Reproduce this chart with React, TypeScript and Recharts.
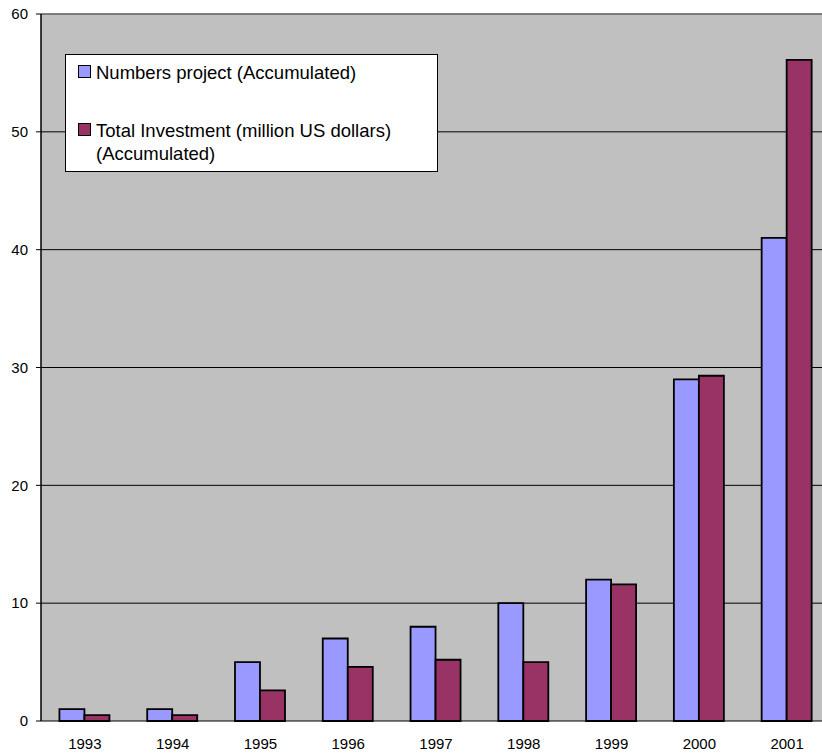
import { BarChart, Bar, XAxis, YAxis, CartesianGrid, Legend, ReferenceLine } from 'recharts';

const years = ['1993', '1994', '1995', '1996', '1997', '1998', '1999', '2000', '2001'];
const projects = [1, 1, 5, 7, 8, 10, 12, 29, 41];
const investment = [0.5, 0.5, 2.6, 4.6, 5.2, 5.0, 11.6, 29.3, 56.1];
const yTicks = [0, 10, 20, 30, 40, 50, 60];

const data = years.map((year, i) => ({ year, projects: projects[i], investment: investment[i] }));
// boundaries between the year categories, for the tick marks
const bounds = [...years.map((_, i) => i), years.length];

const FONT = '"Liberation Sans", Arial, sans-serif';

const LegendBox = ({ payload }: any) => (
  <div
    style={{
      width: 359,
      height: 110.5,
      background: '#fff',
      border: '1px solid #000',
      fontFamily: FONT,
      fontSize: 18.5,
      lineHeight: '23px',
      color: '#000',
      paddingLeft: 12,
      paddingTop: 5.5,
      boxSizing: 'content-box',
    }}
  >
    {(payload || []).map((p: any, i: number) => (
      <div key={p.value} style={{ display: 'flex', alignItems: 'flex-start', marginTop: i === 0 ? 0 : 35 }}>
        <span
          style={{
            width: 11,
            height: 11,
            marginTop: 4.5,
            marginRight: 5,
            background: p.color,
            border: '1.5px solid #000',
            flexShrink: 0,
          }}
        />
        <span style={{ width: 340, flexShrink: 0 }}>{p.value}</span>
      </div>
    ))}
  </div>
);

export default function App() {
  return (
    <div style={{ position: 'fixed', left: 0, top: 0, width: 822, height: 756, overflow: 'hidden', background: '#fff' }}>
      <BarChart
        width={835}
        height={756}
        data={data}
        margin={{ top: 14, right: 4, left: 0, bottom: 0 }}
        barCategoryGap="21%"
        barGap={0}
      >
        <CartesianGrid vertical={false} stroke="#000" fill="#c0c0c0" fillOpacity={1} />
        <XAxis
          xAxisId="b"
          type="number"
          domain={[0, years.length]}
          ticks={bounds}
          height={0}
          tick={false}
          tickSize={5}
          tickLine={{ stroke: '#000' }}
          axisLine={{ stroke: '#000' }}
        />
        <XAxis
          xAxisId="cat"
          dataKey="year"
          height={35}
          tickSize={0}
          tickLine={false}
          axisLine={false}
          tickMargin={17}
          tick={{ fill: '#000', fontSize: 15, fontFamily: FONT }}
        />
        <YAxis
          domain={[0, 60]}
          ticks={yTicks}
          width={41}
          tickSize={5}
          tickMargin={8}
          axisLine={{ stroke: '#000', strokeWidth: 1.5 }}
          tickLine={{ stroke: '#000' }}
          tick={{ fill: '#000', fontSize: 15, fontFamily: FONT }}
        />
        <ReferenceLine y={60} xAxisId="cat" stroke="#808080" strokeWidth={1.5} />
        <Legend
          layout="vertical"
          align="center"
          verticalAlign="middle"
          wrapperStyle={{ left: 65, top: 54, width: 'auto' }}
          content={<LegendBox />}
        />
        <Bar
          xAxisId="cat"
          dataKey="projects"
          name="Numbers project (Accumulated)"
          fill="#9999ff"
          stroke="#000"
          strokeWidth={1.8}
          isAnimationActive={false}
        />
        <Bar
          xAxisId="cat"
          dataKey="investment"
          name="Total Investment (million US dollars) (Accumulated)"
          fill="#993366"
          stroke="#000"
          strokeWidth={1.8}
          isAnimationActive={false}
        />
      </BarChart>
    </div>
  );
}
